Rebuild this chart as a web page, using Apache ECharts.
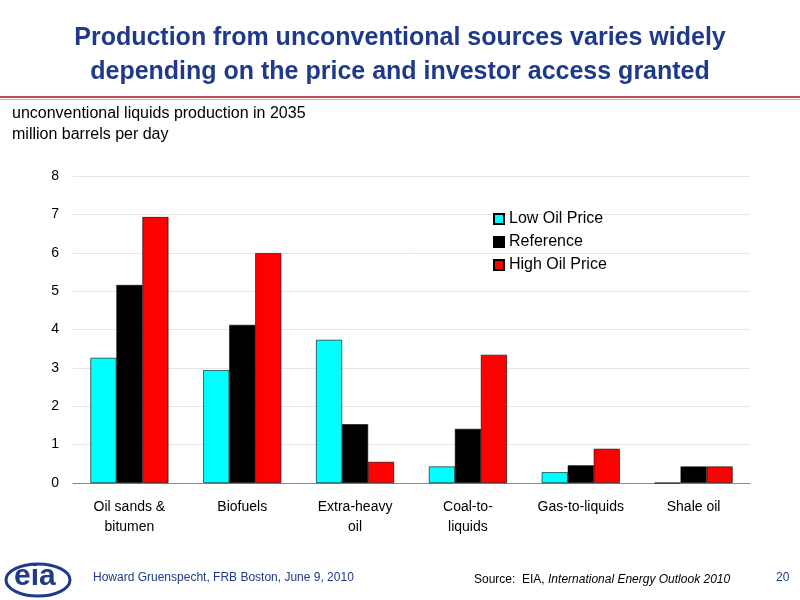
<!DOCTYPE html>
<html><head><meta charset="utf-8">
<script src="https://cdn.jsdelivr.net/npm/echarts@6/dist/echarts.min.js"></script>
<style>html,body{margin:0;padding:0;background:#fff}#c{width:800px;height:600px}</style>
</head><body><div id="c"></div>
<script>
const categories = ['Oil sands &\nbitumen','Biofuels','Extra-heavy\noil','Coal-to-\nliquids','Gas-to-liquids','Shale oil'];
const lowOil = [3.26, 2.94, 3.73, 0.43, 0.28, 0];
const reference = [5.16, 4.12, 1.53, 1.41, 0.46, 0.43];
const highOil = [6.93, 5.99, 0.55, 3.34, 0.89, 0.43];
const yTicks = [0,1,2,3,4,5,6,7,8];
const chart = echarts.init(document.getElementById('c'));
const ff = 'Liberation Sans, Arial, sans-serif';
chart.setOption({
  animation:false,
  textStyle:{fontFamily:ff},
  title:{text:'Production from unconventional sources varies widely\ndepending on the price and investor access granted',
    left:'center',top:16,textStyle:{color:'#1f3a8a',fontSize:25,fontWeight:'bold',lineHeight:34,fontFamily:ff}},
  graphic:[
    {type:'rect',shape:{x:0,y:96,width:800,height:2},style:{fill:'#c0504d'}},
    {type:'rect',shape:{x:0,y:99,width:800,height:1},style:{fill:'#bbbbbb'}},
    {type:'text',left:12,top:103,style:{text:'unconventional liquids production in 2035\nmillion barrels per day',fontSize:16,lineHeight:21,fill:'#000',fontFamily:ff}},
    {type:'ellipse',shape:{cx:38,cy:580,rx:32,ry:16},style:{fill:'none',stroke:'#1f3a8a',lineWidth:3}},
    {type:'text',left:14,top:562,style:{text:'eia',fontSize:30,fontWeight:'bold',fill:'#1f3a8a',fontFamily:ff}},
    {type:'text',left:93,top:572,style:{text:'Howard Gruenspecht, FRB Boston, June 9, 2010',fontSize:12,fill:'#1f3a8a',fontFamily:ff}},
    {type:'text',left:474,top:574,style:{rich:{a:{fontSize:12,fill:'#000'},b:{fontSize:12,fill:'#000',fontStyle:'italic'}},text:'{a|Source:  EIA, }{b|International Energy Outlook 2010}',fontFamily:ff}},
    {type:'text',left:776,top:572,style:{text:'20',fontSize:12,fill:'#1f3a8a',fontFamily:ff}}
  ],
  legend:{orient:'vertical',left:488,top:206,itemWidth:10,itemHeight:10,itemGap:7,icon:'rect',
    textStyle:{fontSize:16,color:'#000'},data:['Low Oil Price','Reference','High Oil Price']},
  grid:{left:73,right:50,top:176,bottom:117},
  xAxis:{type:'category',data:categories,axisTick:{show:false},axisLine:{lineStyle:{color:'#888'}},
    axisLabel:{fontSize:14,color:'#000',lineHeight:20,margin:14,interval:0}},
  yAxis:{type:'value',min:0,max:8,interval:1,axisLine:{show:false},axisTick:{show:false},
    splitLine:{lineStyle:{color:'#e6e6e6'}},axisLabel:{fontSize:14,color:'#000',margin:14,
    formatter:v=>yTicks.includes(v)?String(v):''}},
  series:[
    {name:'Low Oil Price',type:'bar',data:lowOil,barWidth:26,barGap:'0%',barCategoryGap:'28%',itemStyle:{color:'#00ffff',borderColor:'#000',borderWidth:0.6}},
    {name:'Reference',type:'bar',data:reference,barWidth:26,itemStyle:{color:'#000',borderColor:'#000',borderWidth:0.6}},
    {name:'High Oil Price',type:'bar',data:highOil,barWidth:26,itemStyle:{color:'#ff0000',borderColor:'#000',borderWidth:0.6}}
  ]
});
</script></body></html>
